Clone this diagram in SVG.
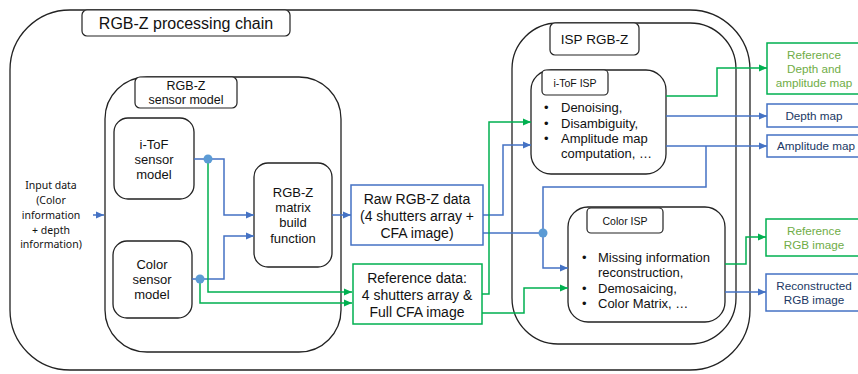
<svg xmlns="http://www.w3.org/2000/svg" width="858" height="374" viewBox="0 0 858 374">
<defs>
<marker id="ab" markerWidth="8" markerHeight="8" refX="8" refY="4" orient="auto" markerUnits="userSpaceOnUse"><path d="M0,0.5 L8,4 L0,7.5 z" fill="#4472C4"/></marker>
<marker id="ag" markerWidth="8" markerHeight="8" refX="8" refY="4" orient="auto" markerUnits="userSpaceOnUse"><path d="M0,0.5 L8,4 L0,7.5 z" fill="#00B050"/></marker>
<style>
.cont{fill:none;stroke:#222;stroke-width:1.3}
.box{fill:#fff;stroke:#222;stroke-width:1.3}
.lbl{fill:#fff;stroke:#222;stroke-width:1.2}
.t{font-family:"Liberation Sans",Arial,sans-serif;fill:#111;text-anchor:middle}
.tl{font-family:"Liberation Sans",Arial,sans-serif;fill:#111}
.bl{fill:none;stroke:#4472C4;stroke-width:1.5}
.gr{fill:none;stroke:#00B050;stroke-width:1.5}
.bbox{fill:#fff;stroke:#4472C4;stroke-width:1.5}
.gbox{fill:#fff;stroke:#00B050;stroke-width:1.5}
.bt{font-family:"Liberation Sans",Arial,sans-serif;fill:#203864;text-anchor:middle;font-size:11.7px}
.gt{font-family:"Liberation Sans",Arial,sans-serif;fill:#70AD47;text-anchor:middle;font-size:11.7px}
.dot{fill:#5B9BD5}
</style>
</defs>
<rect width="858" height="374" fill="#fff"/>

<g id="chain">
<rect class="cont" x="10" y="10" width="740" height="360" rx="60" ry="60"/>
<rect class="lbl" x="82" y="10" width="208" height="26" rx="5"/>
<text class="t" x="186" y="29" font-size="16">RGB-Z processing chain</text>
</g>

<g id="input">
<text class="t" font-family="Noto Sans" x="51" font-size="10.5" style="font-family:'Noto Sans',sans-serif"><tspan x="51" y="189">Input data</tspan><tspan x="51" y="204">(Color</tspan><tspan x="51" y="219">information</tspan><tspan x="51" y="234">+ depth</tspan><tspan x="51" y="248">information)</tspan></text>
</g>

<g id="sensor-model">
<rect class="cont" x="105" y="77" width="236" height="275" rx="42" ry="42"/>
<rect class="lbl" x="135" y="77" width="102" height="31" rx="5"/>
<text class="t" font-size="12.5"><tspan x="186" y="90">RGB-Z</tspan><tspan x="186" y="104">sensor model</tspan></text>
</g>

<g id="itof-sensor">
<rect class="box" x="114" y="118" width="80" height="81" rx="14"/>
<text class="t" font-size="13"><tspan x="154" y="149">i-ToF</tspan><tspan x="154" y="164">sensor</tspan><tspan x="154" y="179">model</tspan></text>
</g>

<g id="color-sensor">
<rect class="box" x="113" y="241" width="79" height="77" rx="14"/>
<text class="t" font-size="13"><tspan x="152" y="269">Color</tspan><tspan x="152" y="284">sensor</tspan><tspan x="152" y="299">model</tspan></text>
</g>

<g id="matrix">
<rect class="box" x="254" y="163" width="78" height="104" rx="14"/>
<text class="t" font-size="13"><tspan x="293" y="197">RGB-Z</tspan><tspan x="293" y="212">matrix</tspan><tspan x="293" y="227">build</tspan><tspan x="293" y="243">function</tspan></text>
</g>

<g id="raw">
<rect class="bbox" x="351" y="185" width="132" height="60"/>
<text class="t" font-size="14"><tspan x="417" y="204">Raw RGB-Z data</tspan><tspan x="417" y="221">(4 shutters array +</tspan><tspan x="417" y="238">CFA image)</tspan></text>
</g>

<g id="reference">
<rect class="gbox" x="353" y="264" width="129" height="60"/>
<text class="t" font-size="14"><tspan x="417" y="283">Reference data:</tspan><tspan x="417" y="300">4 shutters array &amp;</tspan><tspan x="417" y="317">Full CFA image</tspan></text>
</g>

<g id="isp">
<rect class="cont" x="512" y="23" width="224" height="321" rx="46" ry="46"/>
<rect class="lbl" x="550" y="23" width="89" height="32" rx="5"/>
<text class="t" x="594.5" y="44" font-size="13.5">ISP RGB-Z</text>
</g>

<g id="itof-isp">
<rect class="box" x="531" y="70" width="135" height="104" rx="20"/>
<rect class="lbl" x="542" y="70" width="66" height="25" rx="4"/>
<text class="t" x="575" y="87" font-size="10.5">i-ToF ISP</text>
<text class="tl" font-size="13"><tspan x="544" y="112">•</tspan><tspan x="561" y="112">Denoising,</tspan><tspan x="544" y="128">•</tspan><tspan x="561" y="128">Disambiguity,</tspan><tspan x="544" y="143">•</tspan><tspan x="561" y="143">Amplitude map</tspan><tspan x="561" y="158">computation, …</tspan></text>
</g>

<g id="color-isp">
<rect class="box" x="568" y="207" width="157" height="115" rx="20"/>
<rect class="lbl" x="587" y="208" width="76" height="25" rx="4"/>
<text class="t" x="625" y="225" font-size="10.5">Color ISP</text>
<text class="tl" font-size="13"><tspan x="582" y="262">•</tspan><tspan x="598" y="262">Missing information</tspan><tspan x="598" y="277">reconstruction,</tspan><tspan x="582" y="293">•</tspan><tspan x="598" y="293">Demosaicing,</tspan><tspan x="582" y="308">•</tspan><tspan x="598" y="308">Color Matrix, …</tspan></text>
</g>

<g id="ref-depth">
<rect class="gbox" x="767" y="43" width="95" height="51"/>
<text class="gt"><tspan x="814" y="59">Reference</tspan><tspan x="814" y="73">Depth and</tspan><tspan x="814" y="87">amplitude map</tspan></text>
</g>
<g id="depth">
<rect class="bbox" x="767" y="104" width="95" height="23"/>
<text class="bt" x="814" y="120">Depth map</text>
</g>
<g id="amplitude">
<rect class="bbox" x="767" y="135" width="95" height="22"/>
<text class="bt" x="816" y="150">Amplitude map</text>
</g>
<g id="ref-rgb">
<rect class="gbox" x="766" y="219" width="96" height="37"/>
<text class="gt"><tspan x="814" y="235">Reference</tspan><tspan x="814" y="249">RGB image</tspan></text>
</g>
<g id="rec-rgb">
<rect class="bbox" x="766" y="274" width="96" height="37"/>
<text class="bt"><tspan x="814" y="290">Reconstructed</tspan><tspan x="814" y="304">RGB image</tspan></text>
</g>

<g id="connectors">
<path class="bl" d="M93,215 H104" marker-end="url(#ab)"/>
<path class="bl" d="M194,159 H224 V215 H254" marker-end="url(#ab)"/>
<path class="bl" d="M192,279 H224 V236 H254" marker-end="url(#ab)"/>
<path class="bl" d="M332,215 H351" marker-end="url(#ab)"/>
<path class="bl" d="M483,215 H503 V145 H531" marker-end="url(#ab)"/>
<path class="bl" d="M483,233 H543"/>
<path class="bl" d="M666,116 H767" marker-end="url(#ab)"/>
<path class="bl" d="M666,146 H767" marker-end="url(#ab)"/>
<path class="bl" d="M706,146 V187 H543 V268 H568" marker-end="url(#ab)"/>
<path class="bl" d="M725,292 H766" marker-end="url(#ab)"/>
<path class="gr" d="M208,159 V292 H352" marker-end="url(#ag)"/>
<path class="gr" d="M200,279 V303 H352" marker-end="url(#ag)"/>
<path class="gr" d="M482,294 H489 V122 H531" marker-end="url(#ag)"/>
<path class="gr" d="M482,313 H524 V288 H568" marker-end="url(#ag)"/>
<path class="gr" d="M666,96 H717 V68 H767" marker-end="url(#ag)"/>
<path class="gr" d="M725,264 H746 V237 H766" marker-end="url(#ag)"/>
<circle class="dot" cx="208" cy="159" r="4.5"/>
<circle class="dot" cx="200" cy="279" r="4.5"/>
<circle class="dot" cx="543" cy="233" r="4.5"/>
</g>
</svg>
